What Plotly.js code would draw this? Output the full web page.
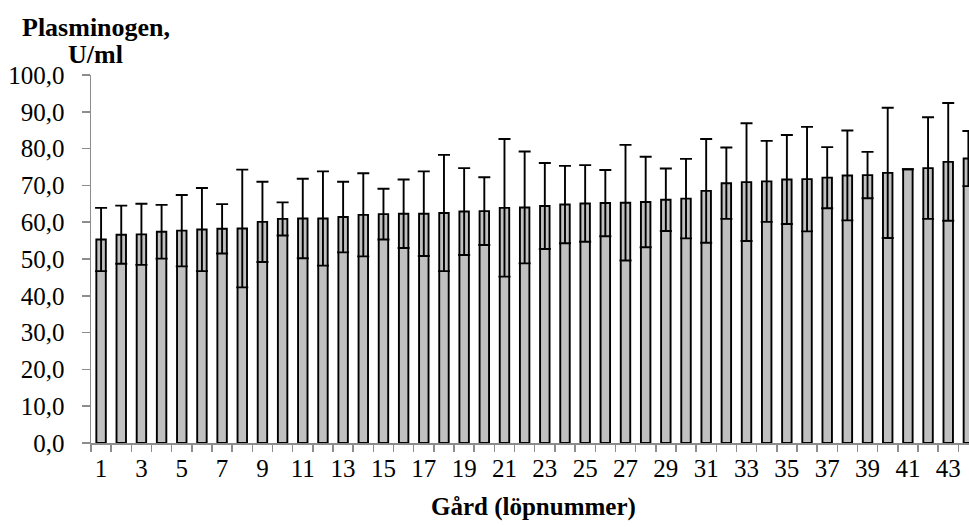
<!DOCTYPE html>
<html>
<head>
<meta charset="utf-8">
<script src="https://cdn.plot.ly/plotly-3.0.1.min.js"></script>
<style>
  html, body { margin: 0; padding: 0; background: #fff; }
  #chart { width: 969px; height: 527px; }
</style>
</head>
<body>
<div id="chart"></div>
<script>
// Farm numbers (Gård, löpnummer)
const farms = [1, 2, 3, 4, 5, 6, 7, 8, 9, 10, 11, 12, 13, 14, 15, 16, 17, 18, 19, 20, 21, 22,
               23, 24, 25, 26, 27, 28, 29, 30, 31, 32, 33, 34, 35, 36, 37, 38, 39, 40, 41, 42, 43, 44];

// Mean plasminogen, U/ml
const plasminogen = [55.3, 56.6, 56.7, 57.4, 57.7, 58.0, 58.2, 58.3, 60.1, 60.9, 61.0, 61.0, 61.4, 62.0,
                     62.2, 62.3, 62.3, 62.5, 62.9, 63.0, 63.9, 64.0, 64.4, 64.8, 65.1, 65.2, 65.3, 65.5,
                     66.1, 66.4, 68.5, 70.6, 70.9, 71.1, 71.6, 71.7, 72.1, 72.7, 72.8, 73.4, 74.4, 74.7,
                     76.4, 77.3];

// Standard deviation (error bars); farm 41 has none
const sd = [8.6, 7.9, 8.3, 7.3, 9.7, 11.3, 6.7, 16.0, 10.9, 4.5, 10.8, 12.8, 9.6, 11.3,
            6.9, 9.3, 11.5, 15.8, 11.8, 9.2, 18.7, 15.2, 11.7, 10.5, 10.4, 9.0, 15.7, 12.3,
            8.5, 10.8, 14.1, 9.7, 16.0, 11.0, 12.1, 14.2, 8.3, 12.2, 6.3, 17.7, null, 13.8,
            16.0, 7.5];

// Tick labels shown on the x axis
const xTickVals = [1, 3, 5, 7, 9, 11, 13, 15, 17, 19, 21, 23, 25, 27, 29, 31, 33, 35, 37, 39, 41, 43];
const xTickText = xTickVals.map(String);

const serif = 'Liberation Serif';

const trace = {
  type: 'bar',
  x: farms,
  y: plasminogen,
  width: 0.47,
  marker: { color: '#c0c0c0', line: { color: '#000000', width: 1.9 } },
  error_y: { type: 'data', array: sd, symmetric: true, visible: true,
             color: '#000000', thickness: 1.9, width: 6 },
  hoverinfo: 'x+y'
};

const layout = {
  width: 969,
  height: 527,
  margin: { l: 91, r: 0, t: 75, b: 84 },
  paper_bgcolor: '#ffffff',
  plot_bgcolor: '#ffffff',
  separators: ', ',
  showlegend: false,
  font: { family: serif, size: 25, color: '#000000' },
  xaxis: {
    range: [0.5, 44.03],
    tickmode: 'array',
    tickvals: xTickVals,
    ticktext: xTickText,
    ticks: '',
    showgrid: false,
    zeroline: false,
    showline: true,
    linecolor: '#8c8c8c',
    linewidth: 1.5,
    tickfont: { family: serif, size: 25, color: '#000000' },
    ticklabelstandoff: 2,
    minor: { tickmode: 'linear', tick0: 0.5, dtick: 1, ticks: 'outside', ticklen: 7,
             tickwidth: 1.5, tickcolor: '#8c8c8c', showgrid: false }
  },
  yaxis: {
    range: [0, 100],
    tickmode: 'linear',
    tick0: 0,
    dtick: 10,
    tickformat: '.1f',
    ticks: 'outside',
    ticklen: 8,
    tickwidth: 1.5,
    tickcolor: '#8c8c8c',
    showgrid: false,
    zeroline: false,
    showline: true,
    linecolor: '#8c8c8c',
    linewidth: 1.5,
    tickfont: { family: serif, size: 25, color: '#000000' },
    ticklabelstandoff: 12
  },
  annotations: [
    {
      text: '<b>Plasminogen,</b>',
      xref: 'paper', yref: 'paper',
      x: 5 / 878, y: 1 + 48 / 368,
      xanchor: 'center', yanchor: 'middle',
      showarrow: false,
      font: { family: serif, size: 26, color: '#000000' }
    },
    {
      text: '<b>U/ml</b>',
      xref: 'paper', yref: 'paper',
      x: 4 / 878, y: 1 + 20 / 368,
      xanchor: 'center', yanchor: 'middle',
      showarrow: false,
      font: { family: serif, size: 26, color: '#000000' }
    },
    {
      text: '<b>Gård (löpnummer)</b>',
      xref: 'paper', yref: 'paper',
      x: (533 - 91) / 878, y: -64 / 368,
      xanchor: 'center', yanchor: 'middle',
      showarrow: false,
      font: { family: serif, size: 25, color: '#000000' }
    }
  ]
};

Plotly.newPlot('chart', [trace], layout, { displayModeBar: false, staticPlot: true });
</script>
</body>
</html>
